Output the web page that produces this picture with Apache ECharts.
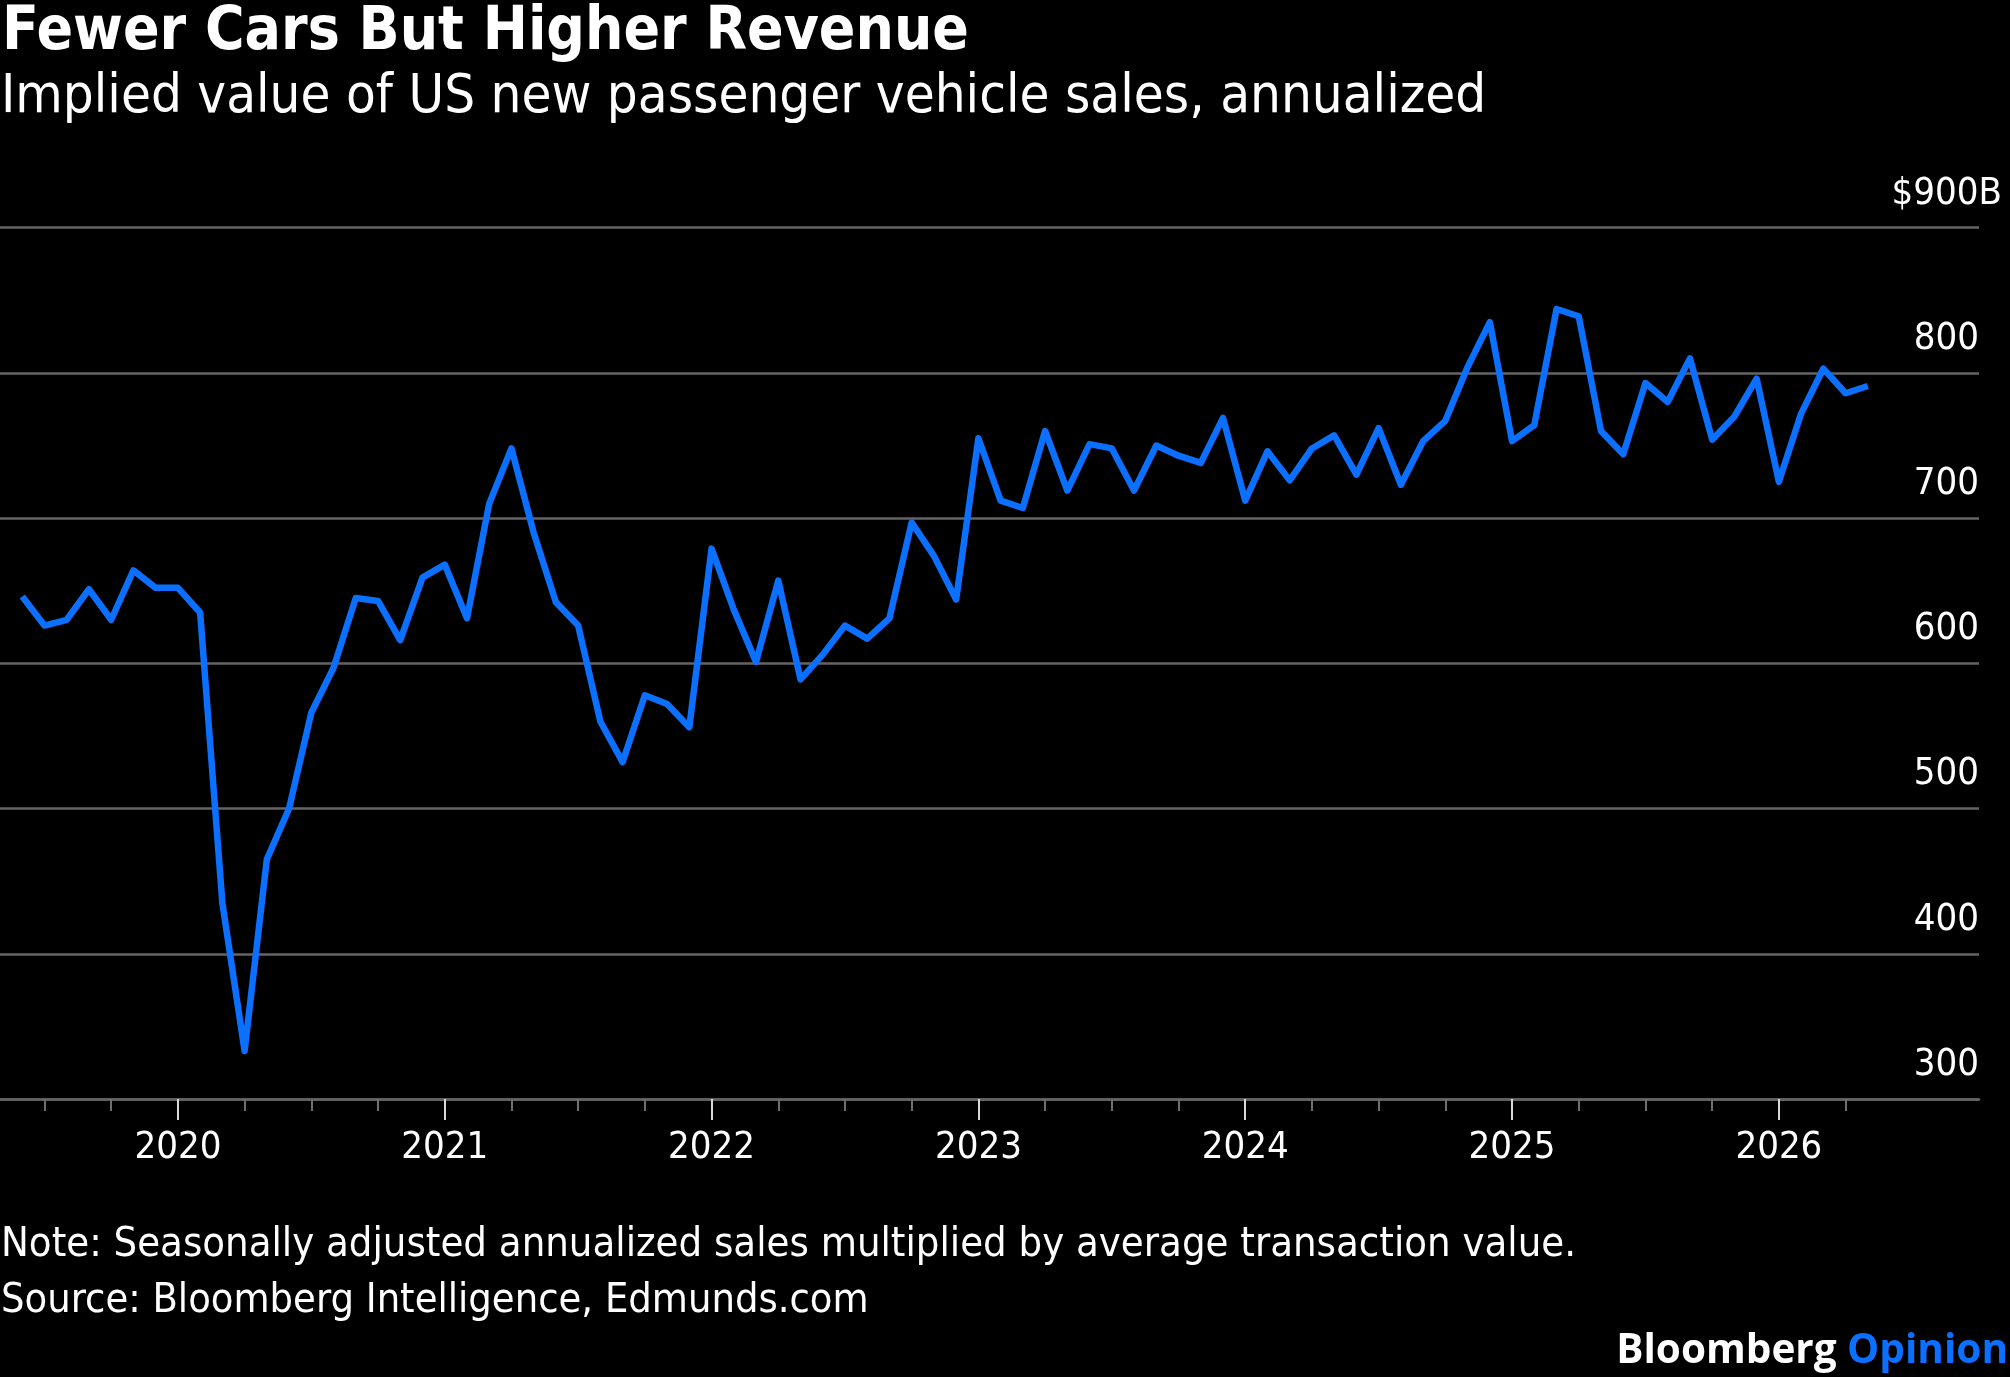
<!DOCTYPE html>
<html>
<head>
<meta charset="utf-8">
<script src="https://cdn.jsdelivr.net/npm/echarts@6/dist/echarts.min.js"></script>
<style>
html,body{margin:0;padding:0;background:#000;}
#chart{width:2010px;height:1377px;}
</style>
</head>
<body>
<div id="chart"></div>
<script>
// ---- data ----
const months = [
  '2019-06','2019-07','2019-08','2019-09','2019-10','2019-11','2019-12',
  '2020-01','2020-02','2020-03','2020-04','2020-05','2020-06','2020-07','2020-08','2020-09','2020-10','2020-11','2020-12',
  '2021-01','2021-02','2021-03','2021-04','2021-05','2021-06','2021-07','2021-08','2021-09','2021-10','2021-11','2021-12',
  '2022-01','2022-02','2022-03','2022-04','2022-05','2022-06','2022-07','2022-08','2022-09','2022-10','2022-11','2022-12',
  '2023-01','2023-02','2023-03','2023-04','2023-05','2023-06','2023-07','2023-08','2023-09','2023-10','2023-11','2023-12',
  '2024-01','2024-02','2024-03','2024-04','2024-05','2024-06','2024-07','2024-08','2024-09','2024-10','2024-11','2024-12',
  '2025-01','2025-02','2025-03','2025-04','2025-05','2025-06','2025-07','2025-08','2025-09','2025-10','2025-11','2025-12',
  '2026-01','2026-02','2026-03','2026-04','2026-05'
];
const salesValue = [
  646,626,630,651,630,664,652,
  652,635,435,333,465,500,566,597,645,643,616,659,
  668,631,710,748,690,642,626,560,532,578,572,556,
  679,637,601,657,589,606,626,617,631,697,674,644,
  755,712,707,760,719,751,748,719,750,743,738,769,
  712,746,726,748,757,730,762,723,753,767,804,835,
  753,764,844,839,760,744,793,780,810,754,770,796,
  725,772,803,786,791
];
const axisLead = ['2019-05'];
const axisTrail = ['2026-06','2026-07','2026-08','2026-09','2026-10'];
const lastTick = '2026-04';
const yMin = 300, yMax = 900, yStep = 100;
const topLabel = '$900B';

const titleText = 'Fewer Cars But Higher Revenue';
const subtitleText = 'Implied value of US new passenger vehicle sales, annualized';
const noteText = 'Note: Seasonally adjusted annualized sales multiplied by average transaction value.';
const sourceText = 'Source: Bloomberg Intelligence, Edmunds.com';

// ---- chart ----
const categories = [...axisLead, ...months, ...axisTrail];
const FONT = "'DejaVu Sans Condensed', 'DejaVu Sans', sans-serif";
const BLUE = '#0b70ff';
const GRID = '#646464';

const chart = echarts.init(document.getElementById('chart'), null, {renderer: 'canvas'});
const isQuarter = (v) => /-(01|04|07|10)$/.test(v) && v <= lastTick;
const isYear = (v) => /-01$/.test(v) && v <= lastTick;

chart.setOption({
  backgroundColor: '#000',
  animation: false,
  title: [
    {text: titleText, left: 2, top: 3, padding: 0,
     textStyle: {color: '#fff', fontFamily: FONT, fontWeight: 'bold', fontSize: 60, lineHeight: 60}},
    {text: subtitleText, left: 1, top: 71, padding: 0,
     textStyle: {color: '#fff', fontFamily: FONT, fontWeight: 'normal', fontSize: 54.2, lineHeight: 54.2}},
    {text: noteText, left: 1, top: 1225, padding: 0,
     textStyle: {color: '#fff', fontFamily: FONT, fontWeight: 'normal', fontSize: 41.4, lineHeight: 41.4}},
    {text: sourceText, left: 1, top: 1281, padding: 0,
     textStyle: {color: '#fff', fontFamily: FONT, fontWeight: 'normal', fontSize: 41.2, lineHeight: 41.2}},
    {text: '{a|Bloomberg }{b|Opinion}', right: 2, top: 1331, padding: 0,
     textStyle: {rich: {
       a: {color: '#fff', fontFamily: "'Open Sans'", fontWeight: 'bold', fontSize: 40.5, lineHeight: 40.5},
       b: {color: BLUE, fontFamily: "'Open Sans'", fontWeight: 'bold', fontSize: 40.5, lineHeight: 40.5}
     }}}
  ],
  grid: {left: 0, right: 31, top: 227.7, bottom: 278, containLabel: false},
  xAxis: [
    {
      type: 'category', data: categories, boundaryGap: false, position: 'bottom',
      axisLine: {show: true, lineStyle: {color: GRID, width: 2.5}},
      axisTick: {show: true, length: 12, interval: (i, v) => isQuarter(v), lineStyle: {color: '#6e6e6e', width: 2}},
      axisLabel: {show: false},
      splitLine: {show: false}
    },
    {
      type: 'category', data: categories, boundaryGap: false, position: 'bottom',
      axisLine: {show: false},
      axisTick: {show: true, length: 21, interval: (i, v) => isYear(v), lineStyle: {color: '#d8d8d8', width: 2}},
      axisLabel: {show: true, interval: (i, v) => isYear(v), formatter: (v) => v.slice(0, 4),
        color: '#fff', fontFamily: FONT, fontSize: 38, lineHeight: 38, margin: 30},
      splitLine: {show: false}
    }
  ],
  yAxis: {
    type: 'value', position: 'right', min: yMin, max: yMax, interval: yStep,
    axisLine: {show: false}, axisTick: {show: false},
    splitLine: {show: true, lineStyle: {color: GRID, width: 2.5}},
    axisLabel: {
      show: true, align: 'right', verticalAlign: 'bottom', margin: 23,
      padding: [0, 0, 15, 0],
      formatter: (v) => v === yMax ? '{t|' + topLabel + '}' : '{t|' + v + '}{s| }',
      rich: {
        t: {color: '#fff', fontFamily: FONT, fontSize: 38, lineHeight: 38},
        s: {width: 23, fontSize: 38, lineHeight: 38}
      }
    }
  },
  series: [{
    type: 'line', xAxisIndex: 0,
    data: months.map((m, i) => [m, salesValue[i]]),
    showSymbol: false, symbol: 'none',
    lineStyle: {color: BLUE, width: 6.5, join: 'round'},
    itemStyle: {color: BLUE}
  }]
});
</script>
</body>
</html>
